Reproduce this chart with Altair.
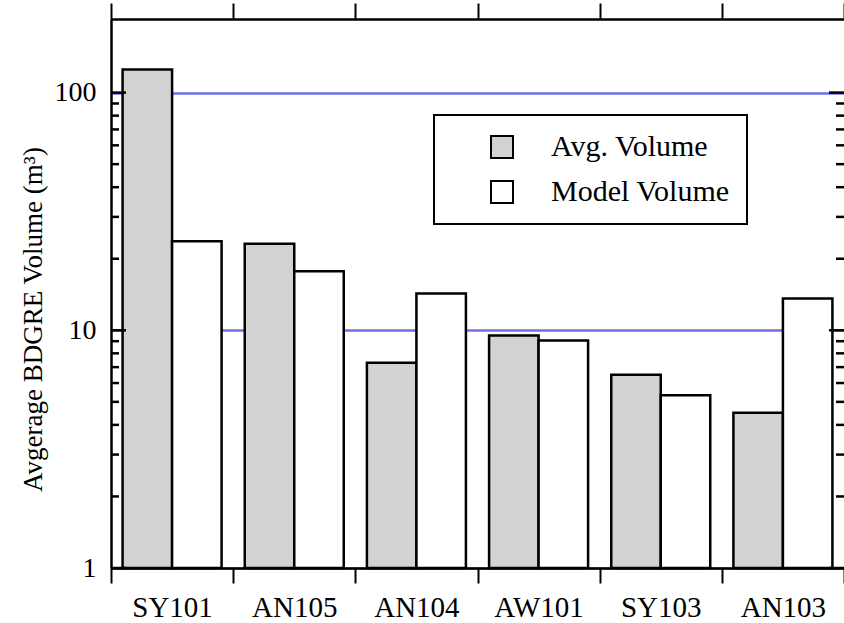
import altair as alt
import pandas as pd

# Tanks, in display order
tanks = ["SY101", "AN105", "AN104", "AW101", "SY103", "AN103"]
series_names = ["Avg. Volume", "Model Volume"]

# Average BDGRE volume per tank (m^3)
avg_volume = [125, 23.1, 7.3, 9.5, 6.5, 4.5]
model_volume = [23.7, 17.7, 14.3, 9.05, 5.33, 13.6]

# Log-axis tick values
major_ticks = [1, 10, 100]
minor_ticks = [2, 3, 4, 5, 6, 7, 8, 9, 20, 30, 40, 50, 60, 70, 80, 90]

rows = []
for t, a, m in zip(tanks, avg_volume, model_volume):
    rows.append({"tank": t, "series": series_names[0], "value": a})
    rows.append({"tank": t, "series": series_names[1], "value": m})
df = pd.DataFrame(rows)
major_df = pd.DataFrame({"value": major_ticks})
minor_df = pd.DataFrame({"value": minor_ticks})

FONT = "Liberation Serif"
W, H = 733, 549

yscale = alt.Scale(type="log", domain=[1, 204], nice=False)
yaxis = alt.Axis(
    values=major_ticks, format="d", ticks=False,
    grid=True, gridColor="#6f6fe8", gridWidth=2.5, gridOpacity=1,
    domainColor="black", domainWidth=2.5,
    labelFont=FONT, labelFontSize=28, labelColor="black", labelPadding=15,
    title="Avgerage BDGRE Volume (m³)", titleFont=FONT, titleFontSize=27,
    titleFontWeight="normal", titleColor="black",
    titleX=-64, titleY=300,
)

bars = alt.Chart(df).mark_bar(stroke="black", strokeWidth=2.5).encode(
    x=alt.X(
        "tank:N", sort=tanks,
        scale=alt.Scale(paddingInner=0, paddingOuter=0),
        axis=alt.Axis(
            orient="bottom", title=None, labelAngle=0, tickBand="extent",
            tickSize=15, tickWidth=2, tickColor="black",
            domainColor="black", domainWidth=2.5,
            labelFont=FONT, labelFontSize=29, labelColor="black", labelPadding=10,
        ),
    ),
    xOffset=alt.XOffset(
        "series:N", sort=series_names,
        scale=alt.Scale(paddingInner=0, paddingOuter=0.234),
    ),
    y=alt.Y("value:Q", scale=yscale, stack=None, axis=yaxis),
    fill=alt.Fill(
        "series:N", sort=series_names,
        scale=alt.Scale(domain=series_names, range=["#d2d2d2", "#ffffff"]),
        legend=alt.Legend(
            title=None, orient="none", legendX=323, legendY=96,
            direction="vertical", fillColor="white", strokeColor="black",
            padding=17, rowPadding=15, symbolOffset=36, labelOffset=34,
            symbolType="square", symbolSize=484, symbolStrokeWidth=2,
            symbolStrokeColor="black", symbolOpacity=1, labelLimit=400,
            labelFont=FONT, labelFontSize=30, labelColor="black",
        ),
    ),
)

# Top frame with outward ticks at the category boundaries
top_axis = alt.Chart(df).mark_rule(opacity=0).encode(
    x=alt.X(
        "tank:N", sort=tanks,
        axis=alt.Axis(
            orient="top", title=None, labels=False, tickBand="extent",
            tickSize=16, tickWidth=2, tickColor="black",
            domainColor="black", domainWidth=2.5,
        ),
    ),
)

def tick_layer(data, x0, x1):
    return alt.Chart(data).mark_rule(color="black", strokeWidth=2.5).encode(
        y=alt.Y("value:Q", scale=yscale, axis=yaxis),
        x=alt.value(x0),
        x2=alt.value(x1),
    )

ticks = [
    tick_layer(major_df, 0.5, 15),
    tick_layer(minor_df, 0.5, 8),
    tick_layer(major_df, W, W - 15),
    tick_layer(minor_df, W, W - 8),
]

chart = alt.layer(bars, top_axis, *ticks).resolve_axis(
    x="independent"
).properties(
    width=W, height=H,
    autosize="none",
    padding={"left": 111, "top": 19, "right": 0, "bottom": 55},
    background="white",
).configure_view(stroke=None).configure_legend(strokeWidth=2)

chart.save("out.html", embed_options={"renderer": "svg", "actions": False})
